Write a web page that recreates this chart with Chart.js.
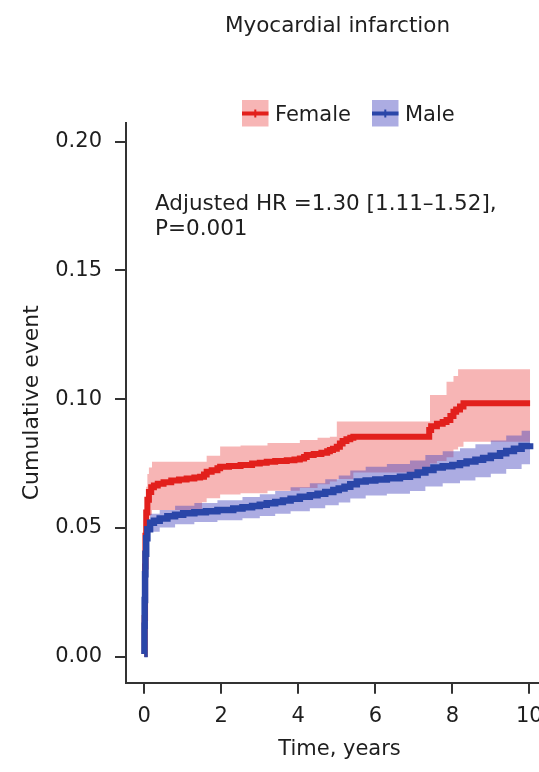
<!DOCTYPE html>
<html><head><meta charset="utf-8">
<script src="https://cdn.jsdelivr.net/npm/chart.js@4/dist/chart.umd.min.js"></script>
<style>
html,body{margin:0;padding:0;background:#fff;}
#wrap{width:539px;height:772px;overflow:hidden;position:relative;background:#fff;}
canvas{display:block;}
</style></head><body>
<div id="wrap"><canvas id="c" width="580" height="772"></canvas></div>
<script>
const titleText = 'Myocardial infarction';
const seriesNames = ['Female', 'Male'];
const annotationLines = ['Adjusted HR =1.30 [1.11\u20131.52],', 'P=0.001'];
const xTitle = 'Time, years';
const yTitle = 'Cumulative event';
const xTicks = [0, 2, 4, 6, 8, 10];
const xTickLabels = ['0', '2', '4', '6', '8', '10'];
const yTicks = [0, 0.05, 0.10, 0.15, 0.20];
const yTickLabels = ['0.00', '0.05', '0.10', '0.15', '0.20'];

// Female: cumulative event estimate
const femaleTime = [0, 0.01, 0.02, 0.03, 0.05, 0.08, 0.12, 0.18, 0.25, 0.35, 0.5, 0.7, 0.9, 1.1, 1.3, 1.45, 1.55, 1.62, 1.75, 1.9, 1.97, 2.2, 2.5, 2.8, 3.0, 3.18, 3.4, 3.7, 3.9, 4.04, 4.15, 4.22, 4.4, 4.6, 4.75, 4.82, 4.9, 5.0, 5.08, 5.15, 5.25, 5.35, 5.43, 7.33, 7.4, 7.45, 7.6, 7.75, 7.85, 7.95, 8.03, 8.1, 8.2, 8.29, 10.02];
const femaleEst  = [0.001, 0.015, 0.035, 0.047, 0.056, 0.061, 0.064, 0.0658, 0.0665, 0.0672, 0.0678, 0.0684, 0.0688, 0.0692, 0.0696, 0.0699, 0.0708, 0.0718, 0.0724, 0.0732, 0.0738, 0.0741, 0.0745, 0.0750, 0.0753, 0.0757, 0.0760, 0.0763, 0.0766, 0.0770, 0.0776, 0.0783, 0.0787, 0.0792, 0.0798, 0.0803, 0.0808, 0.0815, 0.0828, 0.0838, 0.0845, 0.0850, 0.0854, 0.0854, 0.0880, 0.0895, 0.0905, 0.0912, 0.0919, 0.0935, 0.0951, 0.0960, 0.0972, 0.0984, 0.0984];
// Female: confidence band
const femaleBandTime = [0, 0.01, 0.02, 0.03, 0.05, 0.08, 0.12, 0.2, 1.5, 1.62, 1.97, 2.5, 3.2, 4.04, 4.5, 4.82, 5.0, 5.43, 7.33, 7.42, 7.6, 7.85, 8.03, 8.15, 8.29, 10.02];
const femaleHigh = [0.002, 0.020, 0.045, 0.057, 0.066, 0.071, 0.0735, 0.0757, 0.0757, 0.0780, 0.0816, 0.0820, 0.0830, 0.0842, 0.0850, 0.0854, 0.0913, 0.0913, 0.0913, 0.1016, 0.1016, 0.1068, 0.1090, 0.1116, 0.1116, 0.1116];
const femaleLow  = [0.0005, 0.010, 0.027, 0.038, 0.047, 0.052, 0.055, 0.057, 0.060, 0.0615, 0.063, 0.0635, 0.0645, 0.0655, 0.067, 0.068, 0.069, 0.0715, 0.0715, 0.075, 0.076, 0.0775, 0.0805, 0.0815, 0.0835, 0.0835];

// Male: cumulative event estimate
const maleTime = [0, 0.005, 0.01, 0.02, 0.03, 0.05, 0.08, 0.15, 0.25, 0.4, 0.6, 0.8, 1.01, 1.3, 1.6, 1.9, 2.31, 2.55, 2.8, 3.0, 3.18, 3.4, 3.6, 3.8, 4.04, 4.3, 4.5, 4.7, 4.91, 5.05, 5.2, 5.35, 5.52, 5.75, 6.0, 6.3, 6.64, 6.9, 7.1, 7.3, 7.51, 7.75, 8.0, 8.2, 8.37, 8.6, 8.8, 9.0, 9.24, 9.4, 9.6, 9.8, 10.02];
const maleEst  = [0.001, 0.012, 0.022, 0.032, 0.040, 0.046, 0.0495, 0.052, 0.0528, 0.0537, 0.0545, 0.0551, 0.0557, 0.0561, 0.0565, 0.0570, 0.0576, 0.0580, 0.0585, 0.0590, 0.0596, 0.0601, 0.0607, 0.0613, 0.0621, 0.0627, 0.0633, 0.0640, 0.0647, 0.0653, 0.0660, 0.0670, 0.0680, 0.0684, 0.0688, 0.0693, 0.0699, 0.0706, 0.0715, 0.0725, 0.0735, 0.0740, 0.0745, 0.0751, 0.0758, 0.0765, 0.0772, 0.0780, 0.0790, 0.0799, 0.0808, 0.0818, 0.0829];
// Male: confidence band
const maleBandTime = [0, 0.005, 0.01, 0.02, 0.03, 0.05, 0.08, 0.15, 0.4, 0.8, 1.3, 1.9, 2.55, 3.0, 3.4, 3.8, 4.3, 4.7, 5.05, 5.35, 5.75, 6.3, 6.9, 7.3, 7.75, 8.2, 8.6, 9.0, 9.4, 9.8, 10.02];
const maleHigh = [0.0015, 0.015, 0.026, 0.037, 0.045, 0.051, 0.0535, 0.0555, 0.0570, 0.0586, 0.0597, 0.0608, 0.0620, 0.0631, 0.0644, 0.0658, 0.0674, 0.0689, 0.0704, 0.0723, 0.0738, 0.0748, 0.0762, 0.0783, 0.0798, 0.0810, 0.0825, 0.0840, 0.0859, 0.0878, 0.0887];
const maleLow  = [0.0005, 0.009, 0.018, 0.027, 0.035, 0.041, 0.0455, 0.0485, 0.0502, 0.0514, 0.0523, 0.0530, 0.0538, 0.0546, 0.0555, 0.0565, 0.0577, 0.0588, 0.0599, 0.0614, 0.0626, 0.0633, 0.0644, 0.0661, 0.0674, 0.0684, 0.0697, 0.0711, 0.0729, 0.0747, 0.0757];

const FONT = '"DejaVu Sans", "Liberation Sans", sans-serif';
const TXT = '#1e1e1e';
const AXIS = '#333333';
const RED = '#e2201c';
const BLUE = '#2a46a8';
const RED_BAND = 'rgba(235,60,60,0.38)';
const BLUE_BAND = 'rgba(70,70,190,0.45)';

const pts = (t, v) => t.map((x, i) => ({x: x, y: v[i]}));
const lineDs = (label, t, v, color, w) => ({label, data: pts(t, v), borderColor: color, borderWidth: w, stepped: true, pointRadius: 0, fill: false, borderJoinStyle: 'miter'});
const bandDs = (label, t, v, fill, bg) => ({label, data: pts(t, v), borderColor: 'transparent', borderWidth: 0, stepped: true, pointRadius: 0, fill: fill, backgroundColor: bg});

const decor = {
  id: 'decor',
  afterDraw(chart) {
    const c = chart.ctx;
    c.save();
    c.fillStyle = TXT;
    c.textBaseline = 'alphabetic';
    c.font = '21.5px ' + FONT;
    c.textAlign = 'center';
    c.fillText(titleText, 337.5, 32);
    const items = [
      {name: seriesNames[0], band: RED_BAND, line: RED, bx: 242, tx: 275},
      {name: seriesNames[1], band: BLUE_BAND, line: BLUE, bx: 372, tx: 405}
    ];
    items.forEach(it => {
      c.fillStyle = it.band;
      c.fillRect(it.bx, 100, 26.5, 26.5);
      c.fillStyle = it.line;
      c.fillRect(it.bx, 111.5, 26.5, 4);
      c.fillRect(it.bx + 12.3, 109.5, 2, 8);
      c.fillStyle = TXT;
      c.textAlign = 'left';
      c.font = '21px ' + FONT;
      c.fillText(it.name, it.tx, 121);
    });
    c.font = '21.5px ' + FONT;
    c.textAlign = 'left';
    c.fillText(annotationLines[0], 155, 209.5);
    c.fillText(annotationLines[1], 155, 235);
    c.restore();
  }
};

new Chart(document.getElementById('c'), {
  type: 'line',
  data: {
    datasets: [
      lineDs(seriesNames[1], maleTime, maleEst, BLUE, 6.5),
      lineDs(seriesNames[0], femaleTime, femaleEst, RED, 6),
      bandDs('Male upper', maleBandTime, maleHigh, '+1', BLUE_BAND),
      bandDs('Male lower', maleBandTime, maleLow, false, 'transparent'),
      bandDs('Female upper', femaleBandTime, femaleHigh, '+1', RED_BAND),
      bandDs('Female lower', femaleBandTime, femaleLow, false, 'transparent')
    ]
  },
  options: {
    responsive: false,
    animation: false,
    devicePixelRatio: 1,
    layout: {padding: {left: 0, top: 122.7, right: 27, bottom: 0}},
    plugins: {legend: {display: false}, title: {display: false}, tooltip: {enabled: false}},
    scales: {
      x: {
        type: 'linear', min: -0.475, max: 10.615,
        afterBuildTicks: s => { s.ticks = xTicks.map(v => ({value: v})); },
        afterFit: s => { s.height = 89.3; },
        grid: {drawOnChartArea: false, drawTicks: true, tickLength: 11, color: AXIS, lineWidth: 2},
        border: {display: true, color: AXIS, width: 2},
        ticks: {padding: 10, color: TXT, font: {family: FONT, size: 21}, maxRotation: 0, autoSkip: false,
                callback: (v, i) => xTickLabels[i]},
        title: {display: true, text: xTitle, color: TXT, font: {family: FONT, size: 21}, padding: {top: 0, bottom: 10}}
      },
      y: {
        type: 'linear', min: -0.0101, max: 0.2074,
        afterBuildTicks: s => { s.ticks = yTicks.map(v => ({value: v})); },
        afterFit: s => { s.width = 126; },
        grid: {drawOnChartArea: false, drawTicks: true, tickLength: 11, color: AXIS, lineWidth: 2},
        border: {display: true, color: AXIS, width: 2},
        ticks: {padding: 13, color: TXT, font: {family: FONT, size: 21}, autoSkip: false,
                callback: (v, i) => yTickLabels[i]},
        title: {display: true, text: yTitle, color: TXT, font: {family: FONT, size: 22}, padding: {top: 19, bottom: 0}}
      }
    }
  },
  plugins: [decor]
});
</script>
</body></html>
